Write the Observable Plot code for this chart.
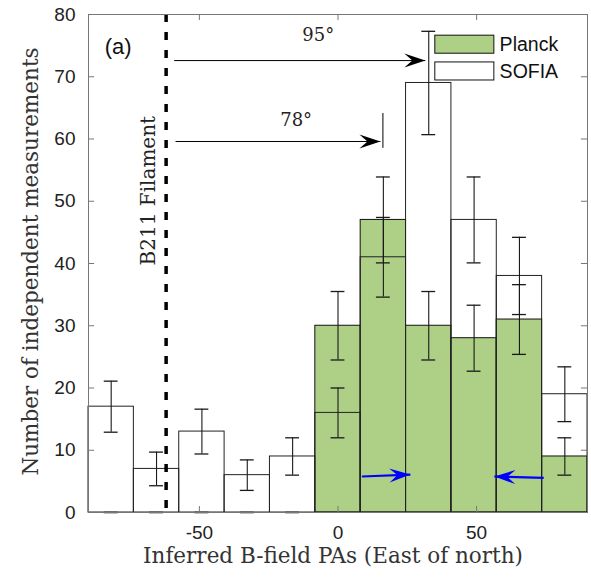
<!DOCTYPE html>
<html><head><meta charset="utf-8">
<script src="https://cdn.jsdelivr.net/npm/d3@7"></script>
<script src="https://cdn.jsdelivr.net/npm/@observablehq/plot@0.6"></script>
<style>body{margin:0;background:#fff;}</style>
</head><body><div id="chart"></div>
<script>
// ---- data ----
const binStarts = [-90, -73.64, -57.27, -40.91, -24.55, -8.18, 8.18, 24.55, 40.91, 57.27, 73.64];
const binWidth = 180 / 11;
const sofiaCounts  = [17, 7, 13, 6, 9, 16, 41, 69, 47, 38, 19];
const sofiaErr     = [4.1, 2.7, 3.6, 2.45, 3.0, 4.0, 6.4, 8.3, 6.9, 6.2, 4.4];
const planckCounts = [0, 0, 0, 0, 0, 30, 47, 30, 28, 31, 9];
const planckErr    = [0, 0, 0, 0, 0, 5.5, 6.9, 5.5, 5.3, 5.6, 3.0];
const xTicks = [-50, 0, 50];
const yTicks = [0, 10, 20, 30, 40, 50, 60, 70, 80];
const filamentPA = -62;
// offset arrows (black): start, tip, level
const offsetArrows = [
  {label: "95°", x1: -59.1, x2: 31.5, y: 72.6, tx: -7.1, ty: 76.6},
  {label: "78°", x1: -58.6, x2: 15.3, y: 59.6, tx: -15.1, ty: 63.0}
];
const marker78 = {x: 16.2, y1: 58.5, y2: 64.1};
// blue arrows near the bottom
const blueArrows = [
  {x1: 8.6, y1: 5.78, x2: 26.1, y2: 6.1, rot: -2.4},
  {x1: 74.2, y1: 5.57, x2: 56.4, y2: 5.78, rot: 181.5}
];
const legendItems = [
  {name: "Planck", fill: "#aecf86", y1: 73.7, y2: 76.6},
  {name: "SOFIA",  fill: "#ffffff", y1: 69.4, y2: 72.3}
];

const green = "#aecf86";
const rows = binStarts.map((s, i) => ({
  x1: s, x2: s + binWidth, c: s + binWidth / 2,
  sofia: sofiaCounts[i], se: sofiaErr[i],
  planck: planckCounts[i], pe: planckErr[i]
}));

const headShape = {
  draw(ctx) {
    ctx.moveTo(0, 0);
    ctx.lineTo(-21, -7);
    ctx.lineTo(-13, 0);
    ctx.lineTo(-21, 7);
    ctx.closePath();
  }
};
const capHalf = 2.5;
const serif = "DejaVu Serif";
const sans = "Liberation Sans";
const axisGray = "#777";

function errorMarks(valKey, errKey, data) {
  return [
    Plot.ruleX(data, {x: "c", y1: d => d[valKey] - d[errKey], y2: d => d[valKey] + d[errKey], stroke: "#1a1a1a", strokeWidth: 1.1}),
    Plot.ruleY(data, {y: d => d[valKey] + d[errKey], x1: d => d.c - capHalf, x2: d => d.c + capHalf, stroke: "#1a1a1a", strokeWidth: 1.3}),
    Plot.ruleY(data, {y: d => d[valKey] - d[errKey], x1: d => d.c - capHalf, x2: d => d.c + capHalf, stroke: "#1a1a1a", strokeWidth: 1.3})
  ];
}

const chart = Plot.plot({
  width: 591, height: 578,
  marginLeft: 88, marginRight: 4, marginTop: 14, marginBottom: 66,
  style: {fontFamily: sans, background: "#fff", color: "#222"},
  x: {domain: [-90, 90]},
  y: {domain: [0, 80]},
  marks: [
    Plot.rectY(rows, {x1: "x1", x2: "x2", y: "sofia", fill: "#fff"}),
    Plot.rectY(rows.filter(d => d.planck > 0), {x1: "x1", x2: "x2", y: "planck", fill: green, stroke: "#111", strokeWidth: 1}),
    Plot.rectY(rows, {x1: "x1", x2: "x2", y: "sofia", fill: "none", stroke: "#222", strokeWidth: 1}),
    ...errorMarks("planck", "pe", rows),
    ...errorMarks("sofia", "se", rows),
    Plot.ruleX([filamentPA], {stroke: "#000", strokeWidth: 3.5, strokeDasharray: "8,10"}),
    // offset arrows
    Plot.link(offsetArrows, {x1: "x1", x2: "x2", y1: "y", y2: "y", stroke: "#000", strokeWidth: 1}),
    Plot.dot(offsetArrows, {x: "x2", y: "y", symbol: headShape, fill: "#000", stroke: "none"}),
    Plot.ruleX([marker78], {x: "x", y1: "y1", y2: "y2", stroke: "#000", strokeWidth: 1}),
    Plot.text(offsetArrows, {x: "tx", y: "ty", text: "label", fontFamily: serif, fontSize: 18, fill: "#222"}),
    // blue arrows
    Plot.link(blueArrows, {x1: "x1", y1: "y1", x2: "x2", y2: "y2", stroke: "#0000ff", strokeWidth: 2.2}),
    Plot.dot(blueArrows, {x: "x2", y: "y2", symbol: headShape, rotate: "rot", fill: "#0000ff", stroke: "none"}),
    // labels in panel
    Plot.text(["(a)"], {x: -79.3, y: 74.8, fontSize: 22, fontFamily: sans, fill: "#111"}),
    Plot.text(["B211 Filament"], {x: -68.2, y: 51.7, rotate: -90, fontSize: 20, fontFamily: serif, fill: "#222"}),
    // legend
    Plot.rect(legendItems, {x1: 35.1, x2: 56.4, y1: "y1", y2: "y2", fill: "fill", stroke: "#111", strokeWidth: 1}),
    Plot.text(legendItems, {x: 58.3, y: d => (d.y1 + d.y2) / 2, text: "name", textAnchor: "start", fontSize: 19.5, fontFamily: sans, fill: "#111"}),
    // inward ticks
    Plot.ruleX(xTicks, {y1: 0, y2: 0.96, stroke: axisGray}),
    Plot.ruleX(xTicks, {y1: 79.04, y2: 80, stroke: axisGray}),
    Plot.ruleY(yTicks, {x1: -90, x2: -87.8, stroke: axisGray}),
    Plot.ruleY(yTicks, {x1: 87.8, x2: 90, stroke: axisGray}),
    Plot.frame({stroke: axisGray, strokeWidth: 1}),
    Plot.axisX(xTicks, {tickSize: 0, tickPadding: 13, tickFormat: d => String(d), fontSize: 19, label: null, fill: "#222"}),
    Plot.axisY(yTicks, {tickSize: 0, tickPadding: 13, tickFormat: d => String(d), fontSize: 19, label: null, fill: "#222"}),
    // axis titles
    Plot.text(["Inferred B-field PAs (East of north)"], {frameAnchor: "bottom", lineAnchor: "top", dx: -5, dy: 35, fontFamily: serif, fontSize: 21.5, fill: "#333"}),
    Plot.text(["Number of independent measurements"], {frameAnchor: "left", textAnchor: "middle", lineAnchor: "middle", dx: -57, dy: -2, rotate: -90, fontFamily: serif, fontSize: 21.5, fill: "#333"})
  ]
});
document.getElementById("chart").append(chart);
</script></body></html>
